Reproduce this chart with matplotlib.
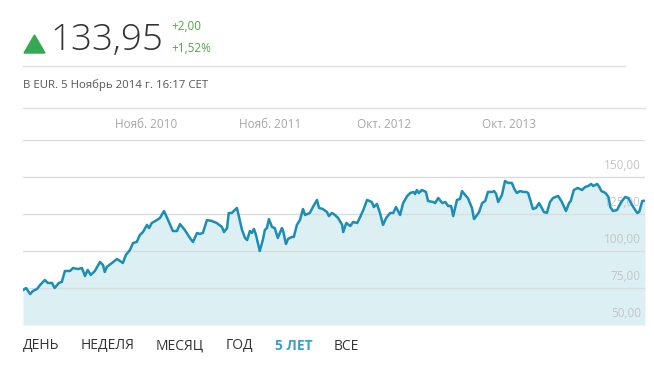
import matplotlib
matplotlib.use("Agg")
import matplotlib.pyplot as plt
import matplotlib.dates as mdates
from matplotlib.lines import Line2D
from matplotlib.patches import Polygon
import pandas as pd

# ---------------- data ----------------
dates = [
    "2009-11-05", "2009-11-14", "2009-11-26", "2009-12-04", "2009-12-16", "2009-12-25",
    "2010-01-08", "2010-01-17", "2010-01-29", "2010-02-06", "2010-02-18", "2010-02-27",
    "2010-03-08", "2010-03-23", "2010-04-01", "2010-04-15", "2010-04-27", "2010-05-06",
    "2010-05-14", "2010-05-23", "2010-06-04", "2010-06-19", "2010-06-28", "2010-07-03",
    "2010-07-09", "2010-07-24", "2010-08-08", "2010-08-25", "2010-09-03", "2010-09-15",
    "2010-09-24", "2010-10-05", "2010-10-14", "2010-10-23", "2010-11-04", "2010-11-10",
    "2010-11-18", "2010-12-03", "2010-12-12", "2010-12-24", "2011-01-05", "2011-01-19",
    "2011-01-31", "2011-02-09", "2011-02-23", "2011-03-10", "2011-03-19", "2011-03-31",
    "2011-04-08", "2011-04-17", "2011-04-29", "2011-05-13", "2011-05-28", "2011-06-12",
    "2011-06-18", "2011-06-27", "2011-07-02", "2011-07-11", "2011-07-26", "2011-08-10",
    "2011-08-19", "2011-08-25", "2011-09-02", "2011-09-08", "2011-09-14", "2011-09-20",
    "2011-10-01", "2011-10-10", "2011-10-16", "2011-10-22", "2011-10-28", "2011-11-06",
    "2011-11-14", "2011-11-23", "2011-12-05", "2011-12-08", "2011-12-17", "2011-12-23",
    "2012-01-03", "2012-01-09", "2012-01-18", "2012-01-27", "2012-02-05", "2012-02-11",
    "2012-02-25", "2012-03-05", "2012-03-17", "2012-03-23", "2012-04-03", "2012-04-15",
    "2012-04-21", "2012-04-30", "2012-05-09", "2012-05-18", "2012-05-30", "2012-06-02",
    "2012-06-11", "2012-06-23", "2012-07-01", "2012-07-13", "2012-07-22", "2012-07-31",
    "2012-08-11", "2012-08-25", "2012-08-31", "2012-09-09", "2012-09-18", "2012-09-27",
    "2012-10-06", "2012-10-18", "2012-10-27", "2012-11-04", "2012-11-16", "2012-11-25",
    "2012-12-07", "2012-12-16", "2012-12-25", "2012-12-30", "2013-01-04", "2013-01-10",
    "2013-01-19", "2013-01-31", "2013-02-06", "2013-02-21", "2013-02-27", "2013-03-08",
    "2013-03-20", "2013-03-29", "2013-04-06", "2013-04-15", "2013-04-21", "2013-05-02",
    "2013-05-11", "2013-05-17", "2013-05-26", "2013-06-03", "2013-06-15", "2013-06-21",
    "2013-06-30", "2013-07-06", "2013-07-15", "2013-07-24", "2013-08-01", "2013-08-13",
    "2013-08-19", "2013-08-25", "2013-08-31", "2013-09-11", "2013-09-20", "2013-09-29",
    "2013-10-10", "2013-10-19", "2013-10-25", "2013-11-03", "2013-11-12", "2013-11-21",
    "2013-11-27", "2013-12-11", "2013-12-20", "2013-12-29", "2014-01-06", "2014-01-12",
    "2014-01-21", "2014-01-30", "2014-02-08", "2014-02-23", "2014-03-06", "2014-03-18",
    "2014-03-27", "2014-04-01", "2014-04-10", "2014-04-22", "2014-05-04", "2014-05-13",
    "2014-05-22", "2014-05-31", "2014-06-06", "2014-06-18", "2014-06-24", "2014-06-30",
    "2014-07-12", "2014-07-21", "2014-07-26", "2014-08-03", "2014-08-15", "2014-08-27",
    "2014-09-08", "2014-09-17", "2014-09-28", "2014-10-13", "2014-10-19", "2014-10-28",
    "2014-11-05",
]
prices = [
    73.6, 75.0, 70.9, 73.0, 74.3, 77.0,
    80.4, 78.4, 78.4, 75.0, 78.4, 79.1,
    86.5, 86.5, 88.5, 87.8, 88.5, 83.1,
    87.2, 83.8, 86.5, 92.6, 90.5, 85.8,
    89.2, 91.9, 94.6, 91.9, 97.3, 100.7,
    105.4, 106.1, 110.8, 112.8, 117.6, 115.5,
    118.9, 120.9, 122.3, 127.0, 120.9, 113.5,
    113.5, 118.2, 114.2, 108.8, 106.1, 112.2,
    111.5, 112.2, 120.9, 120.3, 118.9, 116.2,
    112.8, 115.5, 125.7, 125.7, 129.1, 114.2,
    108.8, 107.4, 113.5, 112.2, 114.9, 110.8,
    100.0, 107.4, 114.2, 115.5, 121.6, 116.2,
    115.5, 108.8, 115.5, 114.2, 104.7, 108.1,
    109.5, 109.5, 117.6, 120.9, 128.4, 124.3,
    125.7, 129.7, 134.5, 129.1, 128.4, 126.4,
    123.6, 125.7, 124.3, 122.3, 117.6, 112.8,
    118.9, 116.9, 119.6, 118.9, 123.0, 127.7,
    134.5, 133.1, 129.7, 131.8, 125.7, 117.6,
    122.3, 125.7, 125.7, 129.7, 124.3, 132.4,
    137.2, 139.2, 139.9, 138.5, 141.2, 139.2,
    141.2, 139.9, 133.8, 133.1, 132.4, 135.8,
    132.4, 133.1, 130.4, 130.4, 123.6, 134.5,
    135.1, 140.5, 137.8, 135.8, 129.1, 121.6,
    124.3, 126.4, 132.4, 133.8, 139.9, 139.9,
    140.5, 138.5, 133.1, 137.8, 147.3, 146.0,
    146.0, 141.2, 139.2, 140.5, 139.9, 139.9,
    139.2, 128.4, 129.1, 132.4, 129.1, 126.4,
    125.7, 133.1, 135.8, 137.2, 133.1, 127.0,
    132.4, 133.8, 141.2, 142.6, 141.2, 143.2,
    143.9, 145.3, 143.9, 145.3, 143.2, 140.5,
    139.2, 136.5, 129.7, 127.0, 127.7, 133.1,
    136.5, 135.8, 131.1, 125.7, 126.4, 133.8,
    133.95,
]
tick_dates = ["2010-11-01", "2011-11-01", "2012-10-01", "2013-10-01"]
tick_labels = ["Нояб. 2010", "Нояб. 2011", "Окт. 2012", "Окт. 2013"]
y_levels = [50, 75, 100, 125, 150, 175]
y_labels = ["50,00", "75,00", "100,00", "125,00", "150,00", ""]
nav_items = ["ДЕНЬ", "НЕДЕЛЯ", "МЕСЯЦ", "ГОД", "5 ЛЕТ", "ВСЕ"]
active_item = "5 ЛЕТ"
last_price = "133,95"
change_abs = "+2,00"
change_pct = "+1,52%"
subtitle = "В EUR. 5 Ноябрь 2014 г. 16:17 CET"

# ---------------- style ----------------
FONT = ["Open Sans", "DejaVu Sans"]
plt.rcParams["font.family"] = FONT
W, H = 654, 367
DPI = 100
fig = plt.figure(figsize=(W / DPI, H / DPI), dpi=DPI)

def fx(px):
    return px / W

def fy(py):
    return 1 - py / H

x = pd.to_datetime(dates)
ax = fig.add_axes([fx(23), fy(325), fx(645) - fx(23), fy(140) - fy(325)])
ax.fill_between(x, prices, 50, color="#dcf0f4", lw=0, zorder=1)
ax.plot(x, prices, color="#1b8db6", lw=1.8, zorder=4, solid_joinstyle="round")
ax.set_xlim(x[0], x[-1])
ax.set_ylim(50, 175)
for s in ax.spines.values():
    s.set_visible(False)
ax.set_yticks(y_levels)
ax.tick_params(axis="y", length=0, labelleft=False)
for v in y_levels:
    ax.axhline(v, color="#d9dcdd", lw=1.0, zorder=2)
for v, lab in zip(y_levels, y_labels):
    ax.annotate(lab, xy=(1, v), xycoords=ax.get_yaxis_transform(),
                xytext=(-3, 8), textcoords="offset points",
                ha="right", va="center", fontsize=8.5, color="#c4c4c4", zorder=3)
ax.set_xticks(pd.to_datetime(tick_dates))
ax.set_xticklabels(tick_labels)
ax.xaxis.set_ticks_position("top")
ax.tick_params(axis="x", length=0, pad=6.5, labelsize=8.5, labelcolor="#a6a6a6")

# separators
fig.add_artist(Line2D([fx(23), fx(625)], [fy(66), fy(66)], color="#e0e0e0", lw=1.0))
fig.add_artist(Line2D([fx(23), fx(645)], [fy(108), fy(108)], color="#e0e0e0", lw=1.0))

# header
tri = Polygon([[fx(24), fy(53)], [fx(45), fy(53)], [fx(34.5), fy(35)]],
              closed=True, color="#34a853", transform=fig.transFigure)
fig.add_artist(tri)
fig.text(fx(50), fy(40.5), last_price, fontsize=26.5, fontweight="light", color="#333333",
         ha="left", va="center")
fig.text(fx(171), fy(27), change_abs, fontsize=8.5, color="#53a548", ha="left", va="center")
fig.text(fx(171), fy(48.5), change_pct, fontsize=8.5, color="#53a548", ha="left", va="center")
fig.text(fx(23), fy(85), subtitle, fontsize=8.2, color="#555555", ha="left", va="center")

# navigation
nav_x = [23, 81, 156, 226, 275, 334]
for px, item in zip(nav_x, nav_items):
    active = item == active_item
    fig.text(fx(px), fy(346), item, fontsize=10, ha="left", va="center",
             color="#3a9fc6" if active else "#333333",
             fontweight="bold" if active else "normal")

fig.savefig("out.png", dpi=DPI)
